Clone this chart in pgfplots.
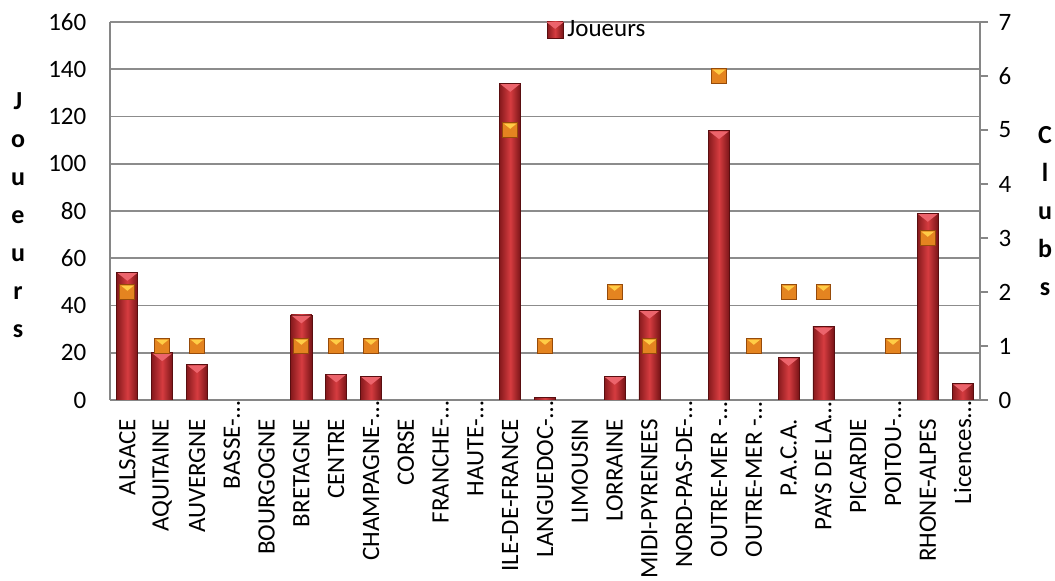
\documentclass[border=0pt]{standalone}
\usepackage{fontspec}
\setmainfont{Carlito}
\usepackage{pgfplots}
\pgfplotsset{compat=1.18}
\usetikzlibrary{calc}

\definecolor{gridgray}{RGB}{140,140,140}
\definecolor{axgray}{RGB}{134,134,134}
\definecolor{barL}{RGB}{135,26,29}
\definecolor{barM}{RGB}{214,60,64}
\definecolor{barR}{RGB}{120,20,23}
\definecolor{barEdge}{RGB}{90,14,16}
\definecolor{barTop}{RGB}{236,100,108}
\definecolor{clubFill}{RGB}{228,132,32}
\definecolor{clubEdge}{RGB}{150,75,10}
\definecolor{clubTop}{RGB}{255,205,70}

\pgfdeclarehorizontalshading{barshade}{100bp}{color(0bp)=(barL); color(25bp)=(barL); color(50bp)=(barM); color(75bp)=(barR); color(100bp)=(barR)}

\newcommand\lbl{\fontsize{12.5}{15}\selectfont}

% pink bevel at the top of each bar
\pgfdeclareplotmark{bevel}{%
  \pgfpathmoveto{\pgfpoint{-4.8pt}{-0.4pt}}%
  \pgfpathlineto{\pgfpoint{4.8pt}{-0.4pt}}%
  \pgfpathlineto{\pgfpoint{0pt}{-4.2pt}}%
  \pgfpathclose
  \pgfusepath{fill}}

% orange club marker with yellow bevel
\pgfdeclareplotmark{club}{%
  \pgfpathrectangle{\pgfpoint{-3.7pt}{-3.7pt}}{\pgfpoint{7.4pt}{7.4pt}}%
  \pgfsetfillcolor{clubFill}\pgfsetstrokecolor{clubEdge}\pgfsetlinewidth{0.5pt}%
  \pgfusepath{fill,stroke}%
  \pgfpathmoveto{\pgfpoint{-3.2pt}{3.2pt}}%
  \pgfpathlineto{\pgfpoint{3.2pt}{3.2pt}}%
  \pgfpathlineto{\pgfpoint{0pt}{0.6pt}}%
  \pgfpathclose
  \pgfsetfillcolor{clubTop}\pgfusepath{fill}}

\pgfplotsset{joueur/.style={forget plot, ybar, bar width=10.5pt, draw=barEdge,
  line width=0.4pt, shade, shading=barshade}}

\begin{document}
\begin{tikzpicture}
\begin{axis}[
  scale only axis, width=435pt, height=189pt,
  xmin=-0.5, xmax=24.5, ymin=0, ymax=160,
  axis x line*=bottom, axis y line*=left,
  axis line style={draw=axgray, line width=1pt},
  xtick={0,...,24},
  xticklabels={ALSACE, AQUITAINE, AUVERGNE, BASSE-\rlap{…}, BOURGOGNE, BRETAGNE,
    CENTRE, CHAMPAGNE-\rlap{…}, CORSE, FRANCHE-\rlap{…}, HAUTE-\rlap{…}, ILE-DE-FRANCE,
    LANGUEDOC-\rlap{…}, LIMOUSIN, LORRAINE, MIDI-PYRENEES, NORD-PAS-DE-\rlap{…},
    OUTRE-MER -\rlap{…}, OUTRE-MER -\rlap{…}, P.A.C.A., PAYS DE LA\rlap{…}, PICARDIE,
    POITOU-\rlap{…}, RHONE-ALPES, Licences\rlap{…}},
  xticklabel style={rotate=90, anchor=east, inner xsep=9.5pt, outer sep=0pt, font=\lbl},
  x tick style={draw=none},
  ytick={0,20,...,160},
  y tick style={draw=none},
  yticklabel style={font=\lbl, xshift=-8.3pt},
  /pgf/number format/assume math mode=true,
  ymajorgrids, grid style={draw=gridgray, line width=0.9pt},
  ylabel={J\\o\\u\\e\\u\\r\\s},
  ylabel style={rotate=-90, align=center, font=\fontsize{13}{19}\bfseries\selectfont,
    at={(axis description cs:-0.1057,0.49)}, anchor=center},
  title={Nombre de joueurs et clubs par Région},
  % only the descenders of the title fall inside the page, as in the reference
  title style={font=\fontsize{21.5}{26}\bfseries\selectfont,
    at={(axis description cs:0.446,1)}, anchor=base, yshift=9pt},
  legend style={at={(0.561,0.979)}, anchor=center, draw=none, fill=none,
    font=\lbl, inner sep=0pt},
]
\coordinate (bl) at (rel axis cs:0,0);
\coordinate (tr) at (rel axis cs:1,1);
% Joueurs, one bar per region so that each bar gets its own shading
\addplot[joueur] coordinates {(0,54)};
\addplot[joueur] coordinates {(1,20)};
\addplot[joueur] coordinates {(2,15)};
\addplot[joueur] coordinates {(5,36)};
\addplot[joueur] coordinates {(6,11)};
\addplot[joueur] coordinates {(7,10)};
\addplot[joueur] coordinates {(11,134)};
\addplot[joueur] coordinates {(12,1)};
\addplot[joueur] coordinates {(14,10)};
\addplot[joueur] coordinates {(15,38)};
\addplot[joueur] coordinates {(17,114)};
\addplot[joueur] coordinates {(19,18)};
\addplot[joueur] coordinates {(20,31)};
\addplot[joueur] coordinates {(23,79)};
\addplot[joueur] coordinates {(24,7)};
\addplot[forget plot, only marks, mark=bevel, mark options={fill=barTop, draw=none}] coordinates {
  (0,54) (1,20) (2,15) (5,36) (6,11) (7,10) (11,134) (14,10)
  (15,38) (17,114) (19,18) (20,31) (23,79) (24,7)};
\addlegendimage{legend image code/.code={\path[draw=barEdge, line width=0.3pt, shade,
    shading=barshade] (0pt,-4pt) rectangle (8pt,4pt);
    \fill[barTop] (0.3pt,3.7pt) -- (7.7pt,3.7pt) -- (4pt,0.8pt) -- cycle;}}
\addlegendentry{Joueurs}
\end{axis}

\begin{axis}[
  scale only axis, width=435pt, height=189pt,
  xmin=-0.5, xmax=24.5, ymin=0, ymax=7,
  hide x axis,
  axis y line*=right,
  axis line style={draw=axgray, line width=1pt},
  ytick={0,...,7},
  tick align=outside, major tick length=4pt,
  y tick style={draw=axgray, line width=0.8pt},
  yticklabel style={font=\lbl, xshift=1.8pt},
  /pgf/number format/assume math mode=true,
  ylabel={C\\l\\u\\b\\s},
  ylabel style={rotate=-90, align=center, font=\fontsize{13}{19}\bfseries\selectfont,
    at={(axis description cs:1.0747,0.5)}, anchor=center},
]
\addplot[only marks, mark=club] coordinates {
  (0,2) (1,1) (2,1) (5,1) (6,1) (7,1) (11,5) (12,1) (14,2) (15,1)
  (17,6) (18,1) (19,2) (20,2) (22,1) (23,3)};
\end{axis}

\pgfresetboundingbox
\path[use as bounding box] ($(bl)+(-55pt,-90.5pt)$) rectangle ($(tr)+(37.5pt,11pt)$);
\end{tikzpicture}
\end{document}
